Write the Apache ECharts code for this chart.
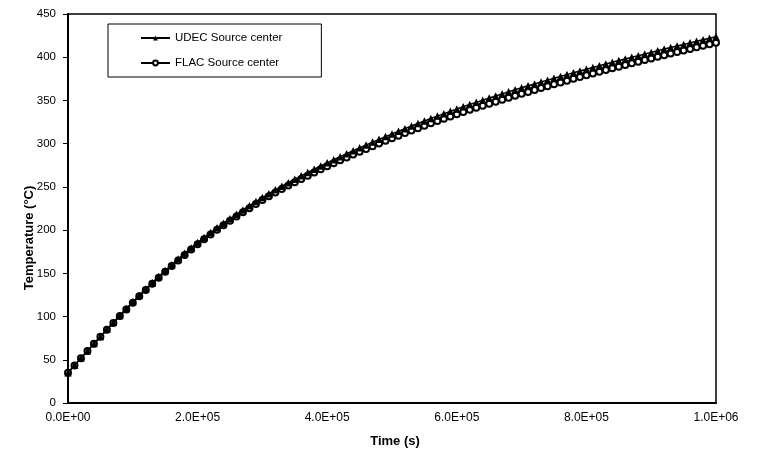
<!DOCTYPE html>
<html>
<head>
<meta charset="utf-8">
<script src="https://cdn.jsdelivr.net/npm/echarts@6/dist/echarts.min.js"></script>
<style>
  html, body { margin: 0; padding: 0; background: #fff; }
  #chart { width: 760px; height: 453px; }
</style>
</head>
<body>
<div id="chart"></div>
<script>
// Time (s), one sample every 1.0E+04 s
const times = [
  0, 10000, 20000, 30000, 40000, 50000, 60000, 70000, 80000, 90000,
  100000, 110000, 120000, 130000, 140000, 150000, 160000, 170000, 180000, 190000,
  200000, 210000, 220000, 230000, 240000, 250000, 260000, 270000, 280000, 290000,
  300000, 310000, 320000, 330000, 340000, 350000, 360000, 370000, 380000, 390000,
  400000, 410000, 420000, 430000, 440000, 450000, 460000, 470000, 480000, 490000,
  500000, 510000, 520000, 530000, 540000, 550000, 560000, 570000, 580000, 590000,
  600000, 610000, 620000, 630000, 640000, 650000, 660000, 670000, 680000, 690000,
  700000, 710000, 720000, 730000, 740000, 750000, 760000, 770000, 780000, 790000,
  800000, 810000, 820000, 830000, 840000, 850000, 860000, 870000, 880000, 890000,
  900000, 910000, 920000, 930000, 940000, 950000, 960000, 970000, 980000, 990000,
  1000000
];

// Source-center temperature (°C), UDEC model
const udecTemp = [
  35.0, 43.6, 52.1, 60.5, 68.8, 77.0, 85.2, 93.3, 101.3, 109.2,
  117.0, 124.6, 132.0, 139.2, 146.3, 153.2, 160.0, 166.6, 173.1, 179.4,
  185.6, 191.5, 197.2, 202.7, 208.0, 213.2, 218.3, 223.3, 228.2, 233.0,
  237.7, 242.2, 246.6, 250.8, 254.9, 258.9, 262.8, 266.7, 270.5, 274.2,
  277.8, 281.4, 284.9, 288.4, 291.8, 295.2, 298.5, 301.8, 305.0, 308.2,
  311.3, 314.4, 317.4, 320.4, 323.3, 326.2, 329.1, 331.9, 334.7, 337.4,
  340.1, 342.7, 345.3, 347.8, 350.3, 352.8, 355.2, 357.6, 360.0, 362.3,
  364.6, 366.9, 369.1, 371.3, 373.5, 375.7, 377.8, 379.9, 382.0, 384.1,
  386.1, 388.1, 390.1, 392.1, 394.1, 396.1, 398.0, 399.9, 401.8, 403.7,
  405.6, 407.5, 409.4, 411.2, 413.0, 414.8, 416.6, 418.4, 420.2, 422.0,
  423.7
];

// Source-center temperature (°C), FLAC model
const flacTemp = [
  35.0, 43.5, 51.9, 60.2, 68.4, 76.5, 84.6, 92.6, 100.5, 108.3,
  116.0, 123.5, 130.8, 137.9, 144.9, 151.7, 158.4, 164.9, 171.3, 177.5,
  183.6, 189.4, 195.0, 200.4, 205.6, 210.7, 215.7, 220.6, 225.4, 230.1,
  234.7, 239.1, 243.4, 247.5, 251.5, 255.4, 259.2, 263.0, 266.7, 270.3,
  273.8, 277.3, 280.7, 284.1, 287.4, 290.7, 293.9, 297.1, 300.2, 303.3,
  306.3, 309.3, 312.2, 315.1, 317.9, 320.7, 323.5, 326.2, 328.9, 331.5,
  334.1, 336.6, 339.1, 341.5, 343.9, 346.3, 348.6, 350.9, 353.2, 355.4,
  357.6, 359.9, 362.1, 364.3, 366.5, 368.7, 370.8, 372.9, 375.0, 377.1,
  379.1, 381.1, 383.1, 385.1, 387.1, 389.1, 391.0, 392.9, 394.8, 396.7,
  398.6, 400.5, 402.4, 404.2, 406.0, 407.8, 409.6, 411.4, 413.2, 415.0,
  416.7
];

const seriesNames = ['UDEC Source center', 'FLAC Source center'];

const FONT = "'Liberation Sans', Arial, sans-serif";

// "2.0E+05" style scientific labels
function sci(v) {
  if (v === 0) return '0.0E+00';
  const s = v.toExponential(1).toUpperCase();
  const m = s.match(/^(-?[\d.]+)E([+-])(\d+)$/);
  return m[1] + 'E' + m[2] + (m[3].length < 2 ? '0' + m[3] : m[3]);
}

const pairs = (ys) => times.map((t, i) => [t, ys[i]]);

const chart = echarts.init(document.getElementById('chart'), null, { renderer: 'canvas' });

chart.setOption({
  animation: false,
  backgroundColor: '#fff',
  textStyle: { fontFamily: FONT, color: '#000' },
  grid: {
    left: 68, right: 44, top: 14, bottom: 50,
    show: true, borderColor: '#000', borderWidth: 1.5, backgroundColor: 'transparent'
  },
  legend: {
    left: 108, top: 24,
    orient: 'vertical',
    data: seriesNames,
    itemWidth: 29, itemHeight: 6, itemGap: 13,
    padding: [8, 39, 8, 32],
    borderColor: '#000', borderWidth: 1,
    backgroundColor: '#fff',
    textStyle: { fontFamily: FONT, fontSize: 11.5, color: '#000' }
  },
  xAxis: {
    type: 'value',
    min: 0, max: 1000000, interval: 200000,
    name: 'Time (s)',
    nameLocation: 'middle',
    nameGap: 32,
    nameTextStyle: { fontFamily: FONT, fontSize: 13, fontWeight: 'bold', color: '#000', padding: [0, 0, 0, 6] },
    axisLine: { show: true, onZero: false, lineStyle: { color: '#000', width: 2 } },
    axisTick: { show: false },
    splitLine: { show: false },
    axisLabel: { formatter: sci, fontFamily: FONT, fontSize: 12, color: '#000', margin: 9 }
  },
  yAxis: {
    type: 'value',
    min: 0, max: 450, interval: 50,
    axisLine: { show: true, lineStyle: { color: '#000', width: 2 } },
    axisTick: { show: true, inside: false, length: 5, lineStyle: { color: '#000', width: 1 } },
    splitLine: { show: false },
    axisLabel: { fontFamily: FONT, fontSize: 11.5, color: '#000', margin: 12 }
  },
  graphic: [{
    type: 'text',
    x: 29, y: 238,
    rotation: Math.PI / 2,
    style: {
      text: 'Temperature (°C)',
      font: "bold 13px 'Liberation Sans', Arial, sans-serif",
      fill: '#000',
      align: 'center',
      verticalAlign: 'middle'
    }
  }],
  series: [
    {
      name: seriesNames[1],
      type: 'line',
      data: pairs(flacTemp),
      symbol: 'circle',
      symbolSize: 6,
      showAllSymbol: true,
      lineStyle: { color: '#000', width: 1.5 },
      itemStyle: { color: '#fff', borderColor: '#000', borderWidth: 2 },
      z: 2
    },
    {
      name: seriesNames[0],
      type: 'line',
      data: pairs(udecTemp),
      symbol: 'triangle',
      symbolSize: 7.5,
      showAllSymbol: true,
      lineStyle: { color: '#000', width: 1.5 },
      itemStyle: { color: '#000' },
      z: 3
    }
  ]
});
</script>
</body>
</html>
